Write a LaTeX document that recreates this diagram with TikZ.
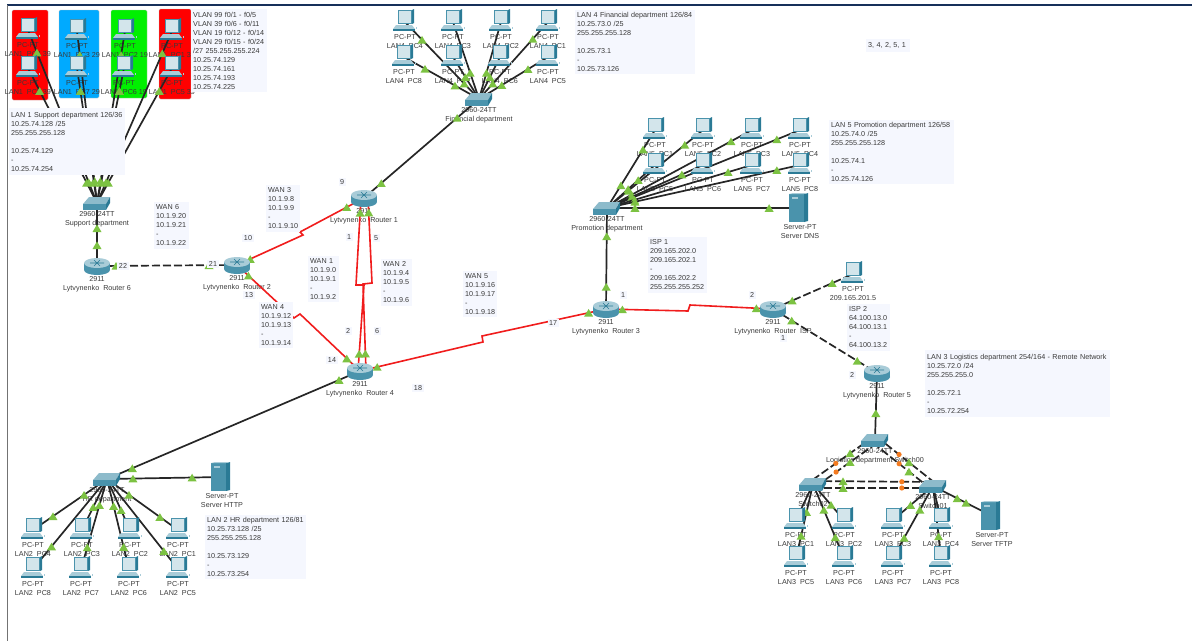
\documentclass[tikz,border=0pt]{standalone}
\usepackage{fontspec}
\setmainfont{Liberation Sans}
\definecolor{PTteal}{HTML}{4A93AC}
\definecolor{PTdark}{HTML}{2A7A95}
\definecolor{PTlight}{HTML}{A9CCD8}
\definecolor{PTscreen}{HTML}{D3E5EB}
\definecolor{PTgreen}{HTML}{7CC242}
\definecolor{PTamber}{HTML}{F47B20}
\definecolor{PTred}{HTML}{F01C1C}
\definecolor{notebg}{HTML}{F5F7FE}
\definecolor{inktext}{HTML}{3A3A3A}
\definecolor{topbar}{HTML}{17305A}
\usetikzlibrary{calc,positioning}
\newcommand{\pclist}{
  l1p4/28/30/LAN1~~PC4 39,l1p3/77/31/LAN1~~PC3 29,l1p2/125/31/LAN1~~PC2 19,l1p1/172/31/LAN1~~PC1 39,
  l1p8/28/68/LAN1~~PC8 39,l1p7/77/68/LAN1~~PC7 29,l1p6/124/68/LAN1~~PC6 19,l1p5/172/68/LAN1~~PC5 39,
  l4p4/405/22/LAN4~~PC4,l4p3/453/22/LAN4~~PC3,l4p2/501/22/LAN4~~PC2,l4p1/548/22/LAN4~~PC1,
  l4p8/404/57/LAN4~~PC8,l4p7/453/57/LAN4~~PC7,l4p6/500/57/LAN4~~PC6,l4p5/548/57/LAN4~~PC5,
  l5p1/655/130/LAN5~~PC1,l5p2/703/130/LAN5~~PC2,l5p3/752/130/LAN5~~PC3,l5p4/800/130/LAN5~~PC4,
  l5p5/655/165/LAN5~~PC5,l5p6/703/165/LAN5~~PC6,l5p7/752/165/LAN5~~PC7,l5p8/800/165/LAN5~~PC8,
  l2p4/33/530/LAN2~~PC4,l2p3/82/530/LAN2~~PC3,l2p2/130/530/LAN2~~PC2,l2p1/178/530/LAN2~~PC1,
  l2p8/33/569/LAN2~~PC8,l2p7/81/569/LAN2~~PC7,l2p6/129/569/LAN2~~PC6,l2p5/178/569/LAN2~~PC5,
  l3p1/796/520/LAN3~~PC1,l3p2/844/520/LAN3~~PC2,l3p3/893/520/LAN3~~PC3,l3p4/941/520/LAN3~~PC4,
  l3p5/796/558/LAN3~~PC5,l3p6/844/558/LAN3~~PC6,l3p7/893/558/LAN3~~PC7,l3p8/941/558/LAN3~~PC8,
  pcisp/853/274/209.165.201.5}
\newcommand{\routerlist}{
  r1/364/198/Lytvynenko~~Router 1,r2/237/265/Lytvynenko~~Router 2,r3/606/309/Lytvynenko~~Router 3,
  r4/360/371/Lytvynenko~~Router 4,r5/877/373/Lytvynenko~~Router 5,r6/97/266/Lytvynenko~~Router 6,
  risp/773/309/Lytvynenko~~Router~~ISP}
\newcommand{\switchlist}{
  swa/97/203/Support department,swb/107/479/HR department,swd/479/99/Financial department,
  swe/607/208/Promotion department,swc/875/440/Logistics department Switch00,
  swf/813/484/Switch02,swg/933/486/Switch01}
\newcommand{\serverlist}{
  srvdns/800/208/Server DNS,srvhttp/222/477/Server HTTP,srvtftp/992/516/Server TFTP}
\begin{document}
\begin{tikzpicture}[
  x=1pt,y=-1pt,
  hub/.style={inner sep=0pt,outer sep=0pt,minimum size=0pt},
  devtext/.style={align=center,inner sep=0pt,text=inktext,font=\fontsize{7.2}{9}\selectfont},
  notebox/.style={anchor=north west,align=left,fill=notebg,inner xsep=2pt,inner ysep=2.6pt,text=inktext,font=\fontsize{7.2}{9}\selectfont},
  numbox/.style={fill=notebg,inner sep=1.5pt,text=inktext,font=\fontsize{7.2}{9}\selectfont},
  wire/.style={line width=1.7pt,black!85},
  dashwire/.style={line width=1.7pt,black!85,dash pattern=on 8pt off 3pt},
  serial/.style={line width=1.6pt,PTred},
  vlan/.style={draw=black!25,line width=.4pt,rounded corners=.5mm},
  lamp/.pic={\fill[PTgreen] (-4.5,3.8) -- (4.5,3.8) -- (0,-3.8) -- cycle;},
  ambr/.pic={\fill[PTamber] (0,0) circle (2.6pt);},
  pcicon/.pic={
    \fill[PTdark] (7,-12) -- (9,-13) -- (9,1) -- (7,2) -- cycle;
    \fill[PTteal] (-7,-12) rectangle (7,2);
    \fill[PTscreen] (-6,-11) rectangle (6,1);
    \fill[PTlight] (-9,3) -- (7,3) -- (10,7) -- (-12,7) -- cycle;
    \fill[PTdark] (-12,7) rectangle (10,9);
    \fill[PTlight] (10.5,5) rectangle (12,7);},
  routericon/.pic={
    \fill[PTteal] (0,4) ellipse [x radius=13pt,y radius=5pt];
    \fill[PTteal] (-13,-3) rectangle (13,4);
    \fill[PTlight] (0,-3) ellipse [x radius=13pt,y radius=5pt];
    \draw[PTdark,line width=.6pt] (-7,-3) -- (7,-3) (-3,-6) -- (3,0) (3,-6) -- (-3,0);},
  switchicon/.pic={
    \fill[PTlight!70!PTteal] (-8,-6) -- (13,-6) -- (9,1) -- (-14,1) -- cycle;
    \fill[PTteal] (-14,1) rectangle (9,7);
    \fill[PTdark] (9,1) -- (13,-6) -- (13,0) -- (9,7) -- cycle;},
  servericon/.pic={
    \fill[PTteal] (-11,-14) rectangle (4,14);
    \fill[PTdark] (4,-14) -- (8,-15) -- (8,13) -- (4,14) -- cycle;
    \fill[PTlight] (-11,-14) -- (-7,-15) -- (8,-15) -- (4,-14) -- cycle;
    \fill[PTlight] (-8,-11) rectangle (-2,-9.5);}
]
\useasboundingbox (0,0) rectangle (1195,641);
\draw[topbar,line width=2.4pt] (7,5) -- (1192,5);
\draw[black!55,line width=1pt] (7,5) -- (7,641);
\draw[vlan,fill=red] (12,10) rectangle (48,100);
\draw[vlan,fill={rgb,255:red,0;green,170;blue,255}] (59,10) rectangle (99,98);
\draw[vlan,fill={rgb,255:red,0;green,240;blue,0}] (111,10) rectangle (147,98);
\draw[vlan,fill=red] (159,9) rectangle (191,99);

\foreach \n/\x/\y/\t in \pclist {
  \node[hub] (\n) at (\x,\y) {};
  \node[devtext,below=12.5pt of \n] (\n t) {PC-PT\\\t};
}
\foreach \n/\x/\y/\t in \routerlist {
  \node[hub] (\n) at (\x,\y) {};
  \node[devtext,below=10.5pt of \n] (\n t) {2911\\\t};
}
\foreach \n/\x/\y/\t in \switchlist {
  \node[hub] (\n) at (\x,\y) {};
  \node[devtext,below=8.5pt of \n] (\n t) {2960-24TT\\\t};
}
\foreach \n/\x/\y/\t in \serverlist {
  \node[hub] (\n) at (\x,\y) {};
  \node[devtext,below=16.5pt of \n] (\n t) {Server-PT\\\t};
}

\foreach \src/\dst/\lamps in {
  l1p4/swa/{.13,.88},l1p3/swa/{.14,.87},l1p2/swa/{.14,.87},l1p1/swa/{.13,.88},
  l1p8/swa/{.17,.85},l1p7/swa/{.17,.85},l1p6/swa/{.17,.85},l1p5/swa/{.17,.85},
  r6/swa/{.33,.6},
  l4p4/swd/{.23,.8},l4p3/swd/{.66},l4p2/swd/{.66},l4p1/swd/{.22,.8},
  l4p8/swd/{.28,.68},l4p7/swd/{.48},l4p6/swd/{.48},l4p5/swd/{.29,.67},
  r1/swd/{.15,.81},
  l5p1/swe/{.25,.71},l5p2/swe/{.19,.78},l5p3/swe/{.145,.83},l5p4/swe/{.12,.865},
  l5p5/swe/{.35,.56},l5p6/swe/{.22,.74},l5p7/swe/{.165,.81},l5p8/swe/{.12,.855},
  swe/srvdns/{.145,.84},r3/swe/{.22,.72},
  l2p4/swb/{.27,.69},l2p3/swb/{.45},l2p2/swb/{.39},l2p1/swb/{.255,.69},
  l2p8/swb/{.25},l2p7/swb/{.24,.71},l2p6/swb/{.245,.7},l2p5/swb/{.2},
  r4/swb/{.083,.9},swb/srvhttp/{.226,.74},
  r5/swc/{.6},
  l3p5/swf/{.3,.62},l3p2/swf/{.42},l3p6/swf/{.28,.65},
  l3p3/swg/{.44},l3p7/swg/{.28,.67},l3p8/swg/{.3},swg/srvtftp/{.41,.56}} {
  \draw[wire] (\src) -- (\dst);
  \foreach \p in \lamps {\path (\src) -- (\dst) pic[pos=\p]{lamp};}
}
\draw[wire] (l3p1) -- (swf);
\draw[wire] (l3p4) -- (swg);

\foreach \src/\dst/\lamps in {
  r6/r2/{.136,.8},risp/pcisp/{.24,.74},risp/r5/{.18,.81}} {
  \draw[dashwire] (\src) -- (\dst);
  \foreach \p in \lamps {\path (\src) -- (\dst) pic[pos=\p]{lamp};}
}

\coordinate (ca1) at ([shift={(-2,-3)}]swc.center);
\coordinate (ca2) at ([shift={(-2,-3)}]swf.center);
\coordinate (cb1) at ([shift={(2,3)}]swc.center);
\coordinate (cb2) at ([shift={(2,3)}]swf.center);
\coordinate (cc1) at ([shift={(2,-3)}]swc.center);
\coordinate (cc2) at ([shift={(2,-3)}]swg.center);
\coordinate (cd1) at ([shift={(-2,3)}]swc.center);
\coordinate (cd2) at ([shift={(-2,3)}]swg.center);
\coordinate (ce1) at ([shift={(0,-3)}]swf.center);
\coordinate (ce2) at ([shift={(0,-4)}]swg.center);
\coordinate (cf1) at ([shift={(0,4)}]swf.center);
\coordinate (cf2) at ([shift={(0,2)}]swg.center);
\foreach \src/\dst/\g/\o in {
  ca1/ca2/.37/.6,cb1/cb2/.435/.66,cc1/cc2/.55/.38,cd1/cd2/.62/.45,ce1/ce2/.25/.74,cf1/cf2/.25/.74} {
  \draw[dashwire] (\src) -- (\dst) pic[pos=\g]{lamp} pic[pos=\o]{ambr};
}

\draw[serial] (r2) -- (303,235) pic[pos=.2]{lamp} -- (300,232) -- (r1) pic[pos=.73]{lamp};
\draw[serial] (r2) -- (294,318) pic[pos=.2]{lamp} -- (300,314) -- (r4) pic[pos=.78]{lamp};
\draw[serial] (r4) -- (483,342) pic[pos=.14]{lamp} -- (482,336) -- (r3) pic[pos=.86]{lamp};
\draw[serial] (r3) -- (688,311) pic[pos=.2]{lamp} -- (690,305) -- (risp) pic[pos=.8]{lamp};
\draw[serial] ([xshift=-3pt]r1.center) -- (356,285) pic[pos=.17]{lamp} -- (364,285) -- ([xshift=-2pt]r4.center) pic[pos=.8]{lamp};
\draw[serial] ([xshift=4pt]r1.center) -- (372,283) pic[pos=.17]{lamp} -- (363,284) -- ([xshift=6pt]r4.center) pic[pos=.8]{lamp};

\foreach \n/\x/\y/\t in \pclist {\pic at (\n) {pcicon};}
\foreach \n/\x/\y/\t in \routerlist {\pic at (\n) {routericon};}
\foreach \n/\x/\y/\t in \switchlist {\pic at (\n) {switchicon};}
\foreach \n/\x/\y/\t in \serverlist {\pic at (\n) {servericon};}

\node[notebox,text width=72pt] (vlannote) at (191,9) {VLAN 99 f0/1 - f0/5\\VLAN 39 f0/6 - f0/11\\VLAN 19 f0/12 - f0/14\\VLAN 29 f0/15 - f0/24\\/27 255.255.255.224\\10.25.74.129\\10.25.74.161\\10.25.74.193\\10.25.74.225};
\node[notebox,text width=112pt,inner ysep=4pt] (lan1note) at (9,108) {LAN 1 Support department 126/36\\10.25.74.128 /25\\255.255.255.128\\[9pt]10.25.74.129\\-\\10.25.74.254};
\node[notebox,text width=116pt] (lan4note) at (575,9.5) {LAN 4 Financial department 126/84\\10.25.73.0 /25\\255.255.255.128\\[9pt]10.25.73.1\\-\\10.25.73.126};
\node[notebox,text width=121pt] (lan5note) at (829,119.5) {LAN 5 Promotion department 126/58\\10.25.74.0 /25\\255.255.255.128\\[9pt]10.25.74.1\\-\\10.25.74.126};
\node[notebox,text width=97pt] (lan2note) at (205,514.5) {LAN 2 HR department 126/81\\10.25.73.128 /25\\255.255.255.128\\[9pt]10.25.73.129\\-\\10.25.73.254};
\node[notebox,text width=181pt,inner ysep=4pt] (lan3note) at (925,350) {LAN 3 Logistics department 254/164 - Remote Network\\10.25.72.0 /24\\255.255.255.0\\[9pt]10.25.72.1\\-\\10.25.72.254};
\node[notebox,text width=31pt] (wan6note) at (154,202) {WAN 6\\10.1.9.20\\10.1.9.21\\-\\10.1.9.22};
\node[notebox,text width=30pt] (wan3note) at (266,185) {WAN 3\\10.1.9.8\\10.1.9.9\\-\\10.1.9.10};
\node[notebox,text width=27pt] (wan1note) at (308,256) {WAN 1\\10.1.9.0\\10.1.9.1\\-\\10.1.9.2\\[9pt]};
\node[notebox,text width=27pt] (wan2note) at (381,259) {WAN 2\\10.1.9.4\\10.1.9.5\\-\\10.1.9.6};
\node[notebox,text width=30pt] (wan4note) at (259,302) {WAN 4\\10.1.9.12\\10.1.9.13\\-\\10.1.9.14};
\node[notebox,text width=30pt] (wan5note) at (463,271) {WAN 5\\10.1.9.16\\10.1.9.17\\-\\10.1.9.18};
\node[notebox,text width=55pt] (isp1note) at (648,237) {ISP 1\\209.165.202.0\\209.165.202.1\\-\\209.165.202.2\\255.255.255.252};
\node[notebox,text width=39pt] (isp2note) at (847,304) {ISP 2\\64.100.13.0\\64.100.13.1\\-\\64.100.13.2};
\node[notebox,text width=40pt,inner ysep=3.5pt] (ordernote) at (866,39) {3, 4, 2, 5, 1};

\foreach \t/\x/\y [count=\i] in {
  22/123/266,21/213/264,10/248/238,13/249/295,9/342/182,1/349/237,5/376/238,
  2/348/331,6/377/331,14/332/360,18/418/388,17/553/323,1/623/295,2/752/295,
  1/783/338,2/852/375} {
  \node[numbox] (num\i) at (\x,\y) {\t};
}
\end{tikzpicture}
\end{document}
